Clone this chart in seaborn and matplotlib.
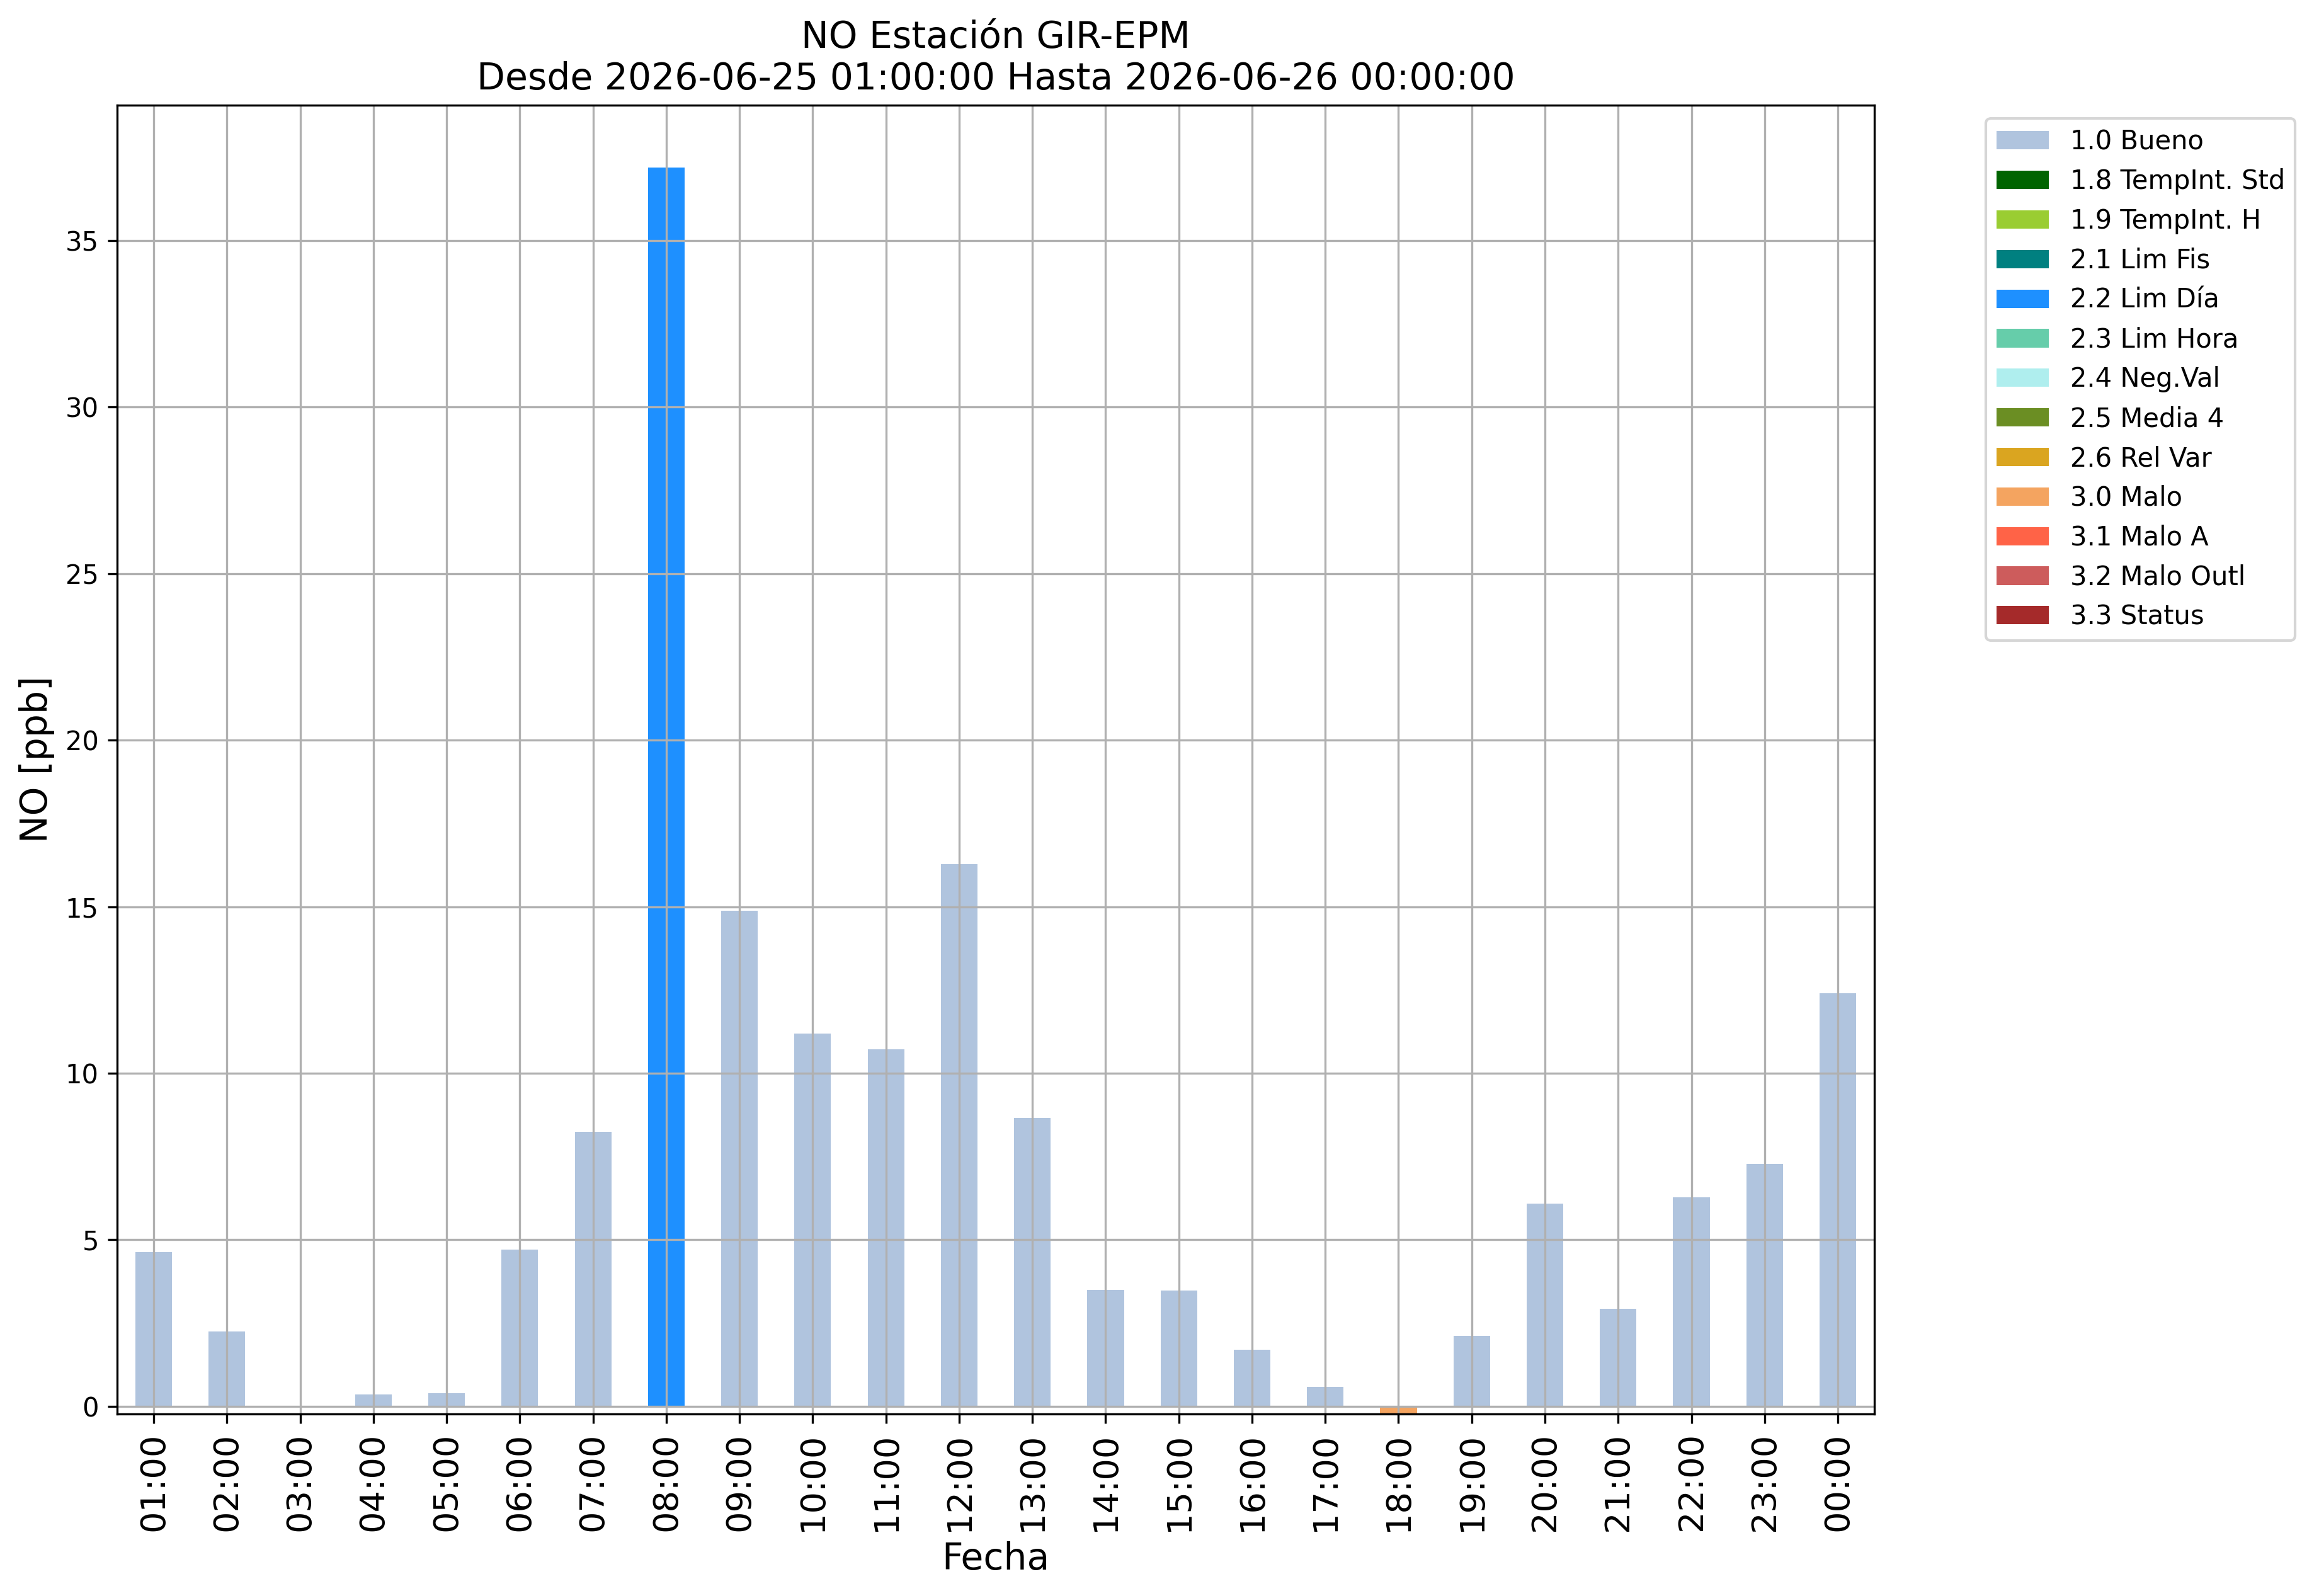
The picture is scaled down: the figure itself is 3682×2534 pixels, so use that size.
import numpy as np
import pandas as pd
import matplotlib
matplotlib.use("Agg")
import matplotlib.pyplot as plt
from matplotlib.patches import Patch
import seaborn as sns

# ---- data ----
hours = ["01:00", "02:00", "03:00", "04:00", "05:00", "06:00", "07:00", "08:00",
         "09:00", "10:00", "11:00", "12:00", "13:00", "14:00", "15:00", "16:00",
         "17:00", "18:00", "19:00", "20:00", "21:00", "22:00", "23:00", "00:00"]
values = [4.64, 2.25, np.nan, 0.35, 0.40, 4.70, 8.24, 37.19,
          14.87, 11.20, 10.71, 16.28, 8.66, 3.50, 3.48, 1.71,
          0.59, -0.20, 2.11, 6.09, 2.93, 6.28, 7.28, 12.41]
flags = ["1.0 Bueno"] * 7 + ["2.2 Lim Día"] + ["1.0 Bueno"] * 9 + ["3.0 Malo"] + ["1.0 Bueno"] * 6

flag_labels = ["1.0 Bueno", "1.8 TempInt. Std", "1.9 TempInt. H", "2.1 Lim Fis",
               "2.2 Lim Día", "2.3 Lim Hora", "2.4 Neg.Val", "2.5 Media 4",
               "2.6 Rel Var", "3.0 Malo", "3.1 Malo A", "3.2 Malo Outl", "3.3 Status"]
flag_colors = ["lightsteelblue", "darkgreen", "yellowgreen", "teal",
               "dodgerblue", "mediumaquamarine", "paleturquoise", "olivedrab",
               "goldenrod", "sandybrown", "tomato", "indianred", "brown"]

title = "NO Estación GIR-EPM\nDesde 2026-06-25 01:00:00 Hasta 2026-06-26 00:00:00"

df = pd.DataFrame({"Fecha": hours, "NO": values, "flag": flags})
palette = dict(zip(flag_labels, flag_colors))

fig = plt.figure(figsize=(3682 / 300, 2534 / 300), dpi=300)
ax = fig.add_axes([0.0505, 0.1140, 0.8083 - 0.0505, 0.9341 - 0.1140])

sns.barplot(data=df, x="Fecha", y="NO", hue="flag", hue_order=flag_labels,
            order=hours, palette=palette, dodge=False, width=0.5,
            saturation=1, errorbar=None, legend=False, linewidth=0,
            edgecolor="none", ax=ax)

ax.set_xlim(-0.5, len(hours) - 0.5)
ax.set_ylim(-0.23, 39.06)
ax.grid(True)
ax.tick_params(axis="x", labelrotation=90, labelsize=13)
ax.tick_params(axis="y", labelsize=10)
ax.set_xlabel("Fecha", fontsize=14)
ax.set_ylabel("NO [ppb]", fontsize=14)
ax.set_title(title, fontsize=14)

handles = [Patch(facecolor=c, label=l) for l, c in zip(flag_labels, flag_colors)]
ax.legend(handles=handles, bbox_to_anchor=(1.056, 1), loc="upper left", fontsize=10)

fig.savefig("out.png", dpi=300)
